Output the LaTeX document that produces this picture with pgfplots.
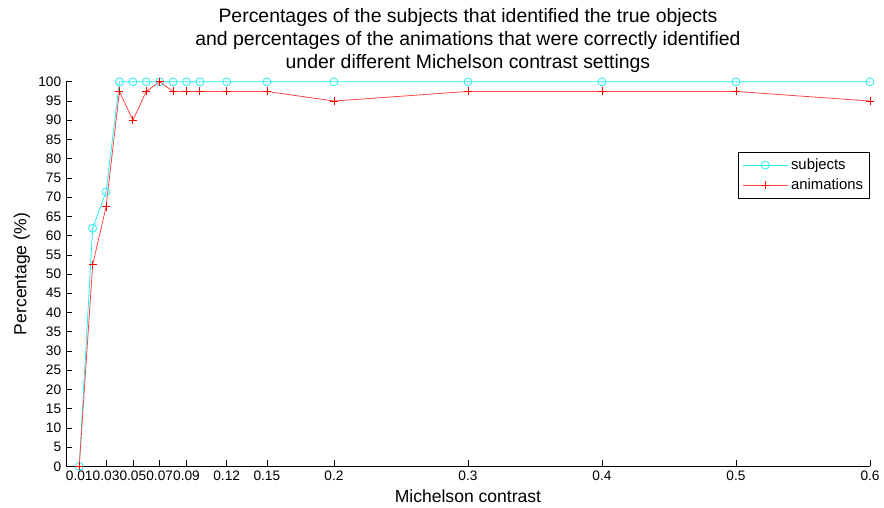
\documentclass[border=0pt]{standalone}
\usepackage{pgfplots}
\pgfplotsset{compat=1.18}
\usepackage{fontspec}
\setmainfont{Liberation Sans}
\definecolor{mcyan}{RGB}{40,240,240}
\definecolor{mred}{RGB}{255,70,70}
\begin{document}
\begin{tikzpicture}
\begin{axis}[
  scale only axis,
  width=604.5pt, height=289pt,
  xmin=0, xmax=0.6, ymin=0, ymax=100,
  axis lines=left,
  axis line style={-, black, line width=0.5pt},
  tick align=inside,
  tick style={black, line width=0.5pt},
  major tick length=4.5pt,
  xtick={0.01,0.03,0.05,0.07,0.09,0.12,0.15,0.2,0.3,0.4,0.5,0.6},
  xticklabels={0.01,0.03,0.05,0.07,0.09,0.12,0.15,0.2,0.3,0.4,0.5,0.6},
  ytick={0,5,...,100},
  /pgf/number format/assume math mode=true,
  tick label style={font=\fontsize{10.3}{12}\selectfont},
  xlabel={Michelson contrast},
  ylabel={Percentage (\%)},
  label style={font=\fontsize{13.2}{15}\selectfont},
  xlabel style={at={(axis description cs:0.5,0)}, anchor=center, yshift=-22.5pt},
  ylabel style={at={(axis description cs:0,0.5)}, anchor=center, yshift=33pt},
  title={Percentages of the subjects that identified the true objects\\and percentages of the animations that were correctly identified\\under different Michelson contrast settings},
  title style={align=center, font=\fontsize{14.6}{17.2}\selectfont, at={(axis description cs:0.5,1)}, anchor=south, yshift=-2.5pt},
  legend style={at={(1,0.818)}, anchor=north east, draw=black, line width=0.5pt, font=\fontsize{11.2}{13}\selectfont, legend cell align=left, inner sep=3pt, row sep=1.5pt},
  legend image code/.code={\draw[mark repeat=2,mark phase=2,#1] plot coordinates {(0cm,0cm) (0.6cm,0cm) (1.2cm,0cm)};},
  clip=false,
]
\path (rel axis cs:0,0) ++(-49.5pt,-30.75pt) (rel axis cs:1,1) ++(9pt,61.5pt);
\addplot[mcyan, line width=0.6pt, mark=o, mark size=3pt, mark options={solid, line width=0.6pt, mcyan}] coordinates {
(0.01,0) (0.02,61.9) (0.03,71.4) (0.04,100) (0.05,100) (0.06,100) (0.07,100) (0.08,100) (0.09,100) (0.1,100) (0.12,100) (0.15,100) (0.2,100) (0.3,100) (0.4,100) (0.5,100) (0.6,100)
};
\addlegendentry{subjects}
\addplot[mred, line width=0.6pt, mark=+, mark size=3pt, mark options={solid, line width=0.6pt, red}] coordinates {
(0.01,0) (0.02,52.4) (0.03,67.5) (0.04,97.5) (0.05,90) (0.06,97.5) (0.07,100) (0.08,97.5) (0.09,97.5) (0.1,97.5) (0.12,97.5) (0.15,97.5) (0.2,95) (0.3,97.5) (0.4,97.5) (0.5,97.5) (0.6,95)
};
\addlegendentry{animations}
\end{axis}
\end{tikzpicture}
\end{document}
